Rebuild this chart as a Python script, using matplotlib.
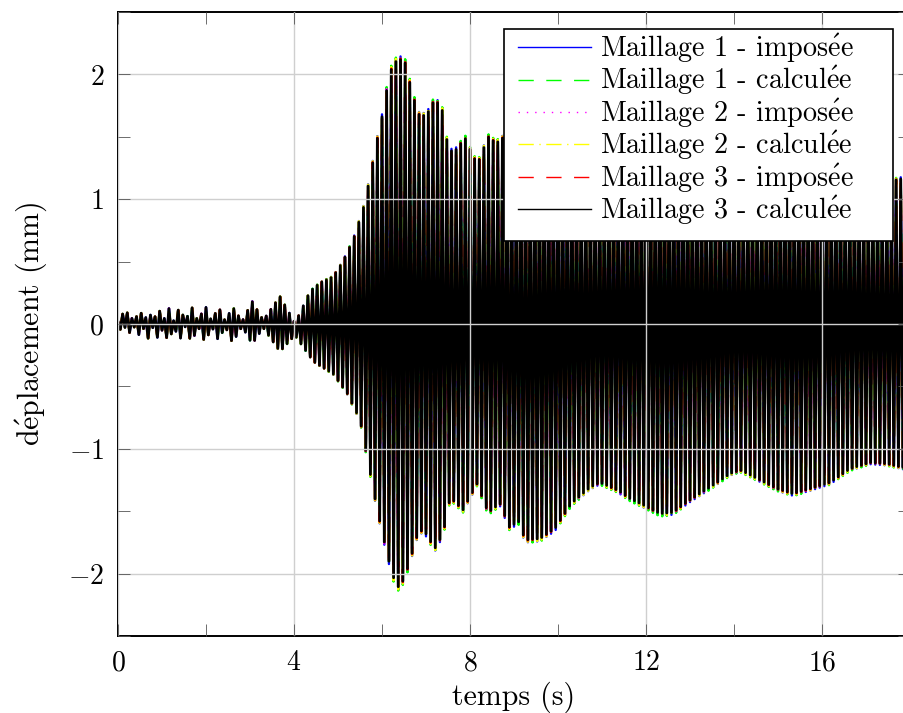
import numpy as np
import matplotlib
matplotlib.use('Agg')
import matplotlib.pyplot as plt
from matplotlib.patches import Rectangle
from matplotlib.ticker import MultipleLocator

plt.rcParams['font.family'] = 'serif'
plt.rcParams['font.serif'] = ['cmr10', 'DejaVu Serif']
plt.rcParams['mathtext.fontset'] = 'cm'
plt.rcParams['axes.formatter.use_mathtext'] = True
plt.rcParams['font.size'] = 20

#################### DONNEES ####################

# enveloppe superieure (temps en s, deplacement en mm)
t_haut = [0.0, 0.09, 0.15, 0.22, 0.36, 0.5, 0.6, 0.69, 0.8, 0.92, 1.03, 1.14, 1.27, 1.4,
          1.53, 1.67, 1.82, 1.98, 2.13, 2.28, 2.44, 2.6, 2.82, 3.05, 3.3, 3.68, 4.02,
          4.14, 4.36, 4.59, 4.89, 5.11, 5.34, 5.57, 5.73, 5.89, 6.0, 6.18, 6.36, 6.52,
          6.71, 6.86, 7.02, 7.2, 7.36, 7.5, 7.62, 7.89, 8.07, 8.18, 8.41, 8.6, 8.73,
          9.1, 9.6, 10.0, 10.6, 11.0, 11.6, 12.3, 12.8, 13.4, 14.1, 14.6, 15.3, 15.8,
          16.4, 17.0, 17.5, 17.9, 18.0]
env_haut = [0.02, 0.10, 0.02, 0.10, 0.02, 0.11, 0.02, 0.11, 0.02, 0.13, 0.02, 0.14, 0.02, 0.14,
            0.02, 0.14, 0.02, 0.15, 0.02, 0.14, 0.02, 0.14, 0.02, 0.18, 0.03, 0.22, 0.01,
            0.09, 0.26, 0.33, 0.38, 0.50, 0.67, 0.92, 1.18, 1.48, 1.66, 2.02, 2.13, 2.10,
            1.82, 1.66, 1.68, 1.80, 1.73, 1.42, 1.37, 1.49, 1.34, 1.29, 1.50, 1.45, 1.49,
            1.45, 1.55, 1.50, 1.30, 1.28, 1.38, 1.50, 1.45, 1.30, 1.20, 1.28, 1.36, 1.30,
            1.25, 1.15, 1.14, 1.17, 1.17]

# enveloppe inferieure (valeurs absolues)
t_bas = [0.0, 0.09, 0.15, 0.22, 0.36, 0.5, 0.6, 0.69, 0.8, 0.92, 1.03, 1.14, 1.27, 1.4,
         1.53, 1.67, 1.82, 1.98, 2.13, 2.28, 2.44, 2.6, 2.82, 3.05, 3.3, 3.68, 4.02,
         4.44, 4.89, 5.2, 5.5, 5.69, 5.88, 6.11, 6.3, 6.41, 6.59, 6.79, 6.93, 7.2, 7.39,
         7.55, 7.84, 8.16, 8.41, 8.68, 8.91, 9.09, 9.25, 9.59, 9.93, 10.3, 10.73, 10.95,
         11.34, 11.64, 11.93, 12.32, 12.61, 13.0, 13.45, 13.91, 14.14, 14.59, 14.98,
         15.34, 15.73, 16.18, 16.64, 17.09, 17.48, 17.84, 18.0]
env_bas = [0.02, 0.06, 0.02, 0.09, 0.02, 0.10, 0.02, 0.12, 0.02, 0.13, 0.02, 0.15, 0.02, 0.13,
           0.02, 0.15, 0.02, 0.15, 0.02, 0.13, 0.02, 0.15, 0.02, 0.16, 0.03, 0.22, 0.09,
           0.30, 0.40, 0.55, 0.77, 1.12, 1.47, 1.84, 2.08, 2.12, 1.95, 1.71, 1.64, 1.80, 1.68,
           1.39, 1.49, 1.28, 1.51, 1.44, 1.64, 1.57, 1.73, 1.72, 1.64, 1.44, 1.31, 1.27,
           1.33, 1.40, 1.45, 1.52, 1.51, 1.41, 1.31, 1.20, 1.17, 1.25, 1.32,
           1.36, 1.32, 1.27, 1.16, 1.11, 1.12, 1.15, 1.16]

# frequence apparente de l'oscillation (Hz)
f_osc = 9.5

e_acc = '$\\mathrm{\\acute{e}}$'
labels = ['Maillage 1 - impos' + e_acc + 'e', 'Maillage 1 - calcul' + e_acc + 'e',
          'Maillage 2 - impos' + e_acc + 'e', 'Maillage 2 - calcul' + e_acc + 'e',
          'Maillage 3 - impos' + e_acc + 'e', 'Maillage 3 - calcul' + e_acc + 'e']
couleurs = ['#0000ff', '#00ff00', '#ff00ff', '#ffff00', '#ff0000', '#000000']
styles = ['-', (0, (11, 9)), (0, (1, 5)), (0, (11, 4, 1, 4)), (0, (11, 9)), '-']
# petits ecarts d'amplitude entre maillages
facteurs = [1.012, 1.015, 1.006, 1.01, 1.004, 1.0]

#################### FIGURE ####################

fig = plt.figure(figsize=(9.04, 7.13), dpi=100)
ax = fig.add_axes([118/904, 77/713, 792/904, 624/713])

t_pics = np.arange(0, 18.0, 1/(2*f_osc))
haut = np.interp(t_pics, t_haut, env_haut)
bas = np.interp(t_pics, t_bas, env_bas)
signe = np.arange(len(t_pics)) % 2
for i in range(6):
    y = np.where(signe == 0, haut, -bas) * facteurs[i]
    lw = 2.0 if i == 5 else 1.7
    ax.plot(t_pics, y, color=couleurs[i], linestyle=styles[i], linewidth=lw, label=labels[i])

ax.set_xlim(0, 18)
ax.set_ylim(-2.5, 2.5)
ax.xaxis.set_major_locator(MultipleLocator(4))
ax.xaxis.set_minor_locator(MultipleLocator(2))
ax.yaxis.set_major_locator(MultipleLocator(1))
ax.yaxis.set_minor_locator(MultipleLocator(0.5))
ax.grid(True, which='major', color='#cfcfcf', linewidth=1.0)
ax.set_axisbelow(False)
ax.tick_params(which='both', direction='in', top=True, right=True, length=8.5,
               width=0.6, color='#555555', pad=10)
for s in ax.spines.values():
    s.set_linewidth(1.4)

ax.set_xlabel('temps (s)', fontsize=21.5, labelpad=4)
ax.set_ylabel('d$\\mathrm{\\acute{e}}$placement (mm)', fontsize=21.5, labelpad=14)

# cadre de la legende
cadre = Rectangle((504/904, 1 - 241/713), 389/904, 212/713, transform=fig.transFigure,
                  facecolor='white', edgecolor='black', linewidth=1.2, zorder=4.9, clip_on=False)
ax.add_artist(cadre)
leg = ax.legend(loc='upper left', bbox_to_anchor=(518/904, 1 - 32/713),
                bbox_transform=fig.transFigure, borderaxespad=0, frameon=False,
                handlelength=2.6, handletextpad=0.32, labelspacing=-0.02, borderpad=0,
                fontsize=20.3)
for h in leg.get_lines():
    h.set_linewidth(1.0)

fig.savefig('out.png', dpi=100)
